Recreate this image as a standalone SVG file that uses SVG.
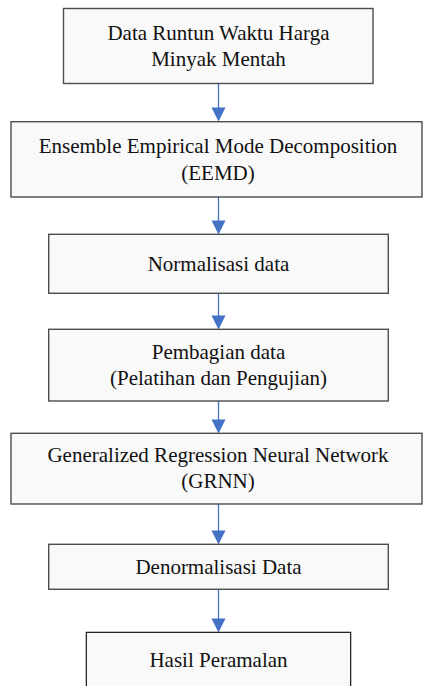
<svg xmlns="http://www.w3.org/2000/svg" width="423" height="686" viewBox="0 0 423 686">
<defs>
<style>
.box{fill:#f9f9f9;stroke:#4d4d4d;stroke-width:1.4}
.box2{fill:#f9f9f9;stroke:#000;stroke-width:1.1}
.t{font-size:21px;fill:#111;text-anchor:middle}
.c{stroke:#4472c4;stroke-width:1.3;fill:none}
.h{fill:#4472c4}
</style>
</defs>
<rect width="423" height="686" fill="#ffffff"/>
<g id="connectors">
<line class="c" x1="218.5" y1="83.5" x2="218.5" y2="108"/><polygon class="h" points="211.5,107.5 225.5,107.5 218.5,121.5"/>
<line class="c" x1="218.5" y1="197" x2="218.5" y2="221"/><polygon class="h" points="211.5,220.5 225.5,220.5 218.5,234.5"/>
<line class="c" x1="218.5" y1="293.5" x2="218.5" y2="316"/><polygon class="h" points="211.5,315.5 225.5,315.5 218.5,329.5"/>
<line class="c" x1="218.5" y1="401" x2="218.5" y2="420"/><polygon class="h" points="211.5,419.5 225.5,419.5 218.5,433.5"/>
<line class="c" x1="218.5" y1="504" x2="218.5" y2="531"/><polygon class="h" points="211.5,530.5 225.5,530.5 218.5,544.5"/>
<line class="c" x1="218.5" y1="589.5" x2="218.5" y2="619"/><polygon class="h" points="211.5,618.5 225.5,618.5 218.5,632.5"/>
</g>
<g font-family="'Liberation Serif', 'DejaVu Serif', serif">
<g id="n1"><rect class="box" x="63.5" y="8.5" width="309.5" height="75"/><text class="t" x="218.5" y="40">Data Runtun Waktu Harga</text><text class="t" x="218.5" y="65.5">Minyak Mentah</text></g>
<g id="n2"><rect class="box" x="11" y="121.7" width="411" height="75.3"/><text class="t" x="218" y="153.3">Ensemble Empirical Mode Decomposition</text><text class="t" x="218" y="180">(EEMD)</text></g>
<g id="n3"><rect class="box" x="48.7" y="234.3" width="339.6" height="59"/><text class="t" x="218.5" y="270.7">Normalisasi data</text></g>
<g id="n4"><rect class="box" x="48.7" y="329.3" width="339.6" height="71.7"/><text class="t" x="218.5" y="359">Pembagian data</text><text class="t" x="218.5" y="385">(Pelatihan dan Pengujian)</text></g>
<g id="n5"><rect class="box" x="11" y="433.3" width="411" height="70.7"/><text class="t" x="218" y="462.3">Generalized Regression Neural Network</text><text class="t" x="218" y="487.5">(GRNN)</text></g>
<g id="n6"><rect class="box" x="48.7" y="544.3" width="339.6" height="45"/><text class="t" x="218.5" y="574">Denormalisasi Data</text></g>
<g id="n7"><rect class="box2" x="86.3" y="632.3" width="264.4" height="70"/><text class="t" x="218.5" y="666.7">Hasil Peramalan</text></g>
</g>
</svg>
